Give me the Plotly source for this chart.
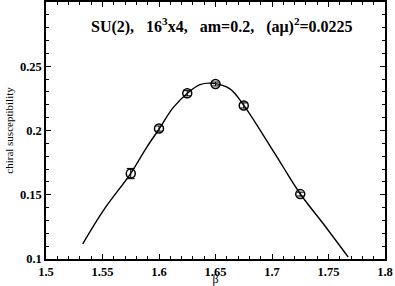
import plotly.graph_objects as go

beta = [1.575, 1.600, 1.625, 1.650, 1.675, 1.725]
chi = [0.1665, 0.2015, 0.2290, 0.2362, 0.2195, 0.1505]
chi_err = [0.0040, 0.0020, 0.0020, 0.0015, 0.0020, 0.0015]

fit_beta = [1.5325, 1.5507, 1.5750, 1.5891, 1.6003, 1.6127, 1.6254, 1.6363,
            1.6480, 1.6628, 1.6752, 1.6953, 1.7100, 1.7254, 1.7454, 1.7675]
fit_chi = [0.1118, 0.1377, 0.1667, 0.1869, 0.2015, 0.2180, 0.2292, 0.2357,
           0.2367, 0.2324, 0.2194, 0.1922, 0.1714, 0.1502, 0.1274, 0.1014]

x_ticks = [1.5, 1.55, 1.6, 1.65, 1.7, 1.75, 1.8]
x_tick_labels = ["1.5", "1.55", "1.6", "1.65", "1.7", "1.75", "1.8"]
y_ticks = [0.1, 0.15, 0.2, 0.25]
y_tick_labels = ["0.1", "0.15", "0.2", "0.25"]

serif = "Liberation Serif"
sp = "\u00a0\u00a0\u00a0"

fig = go.Figure()
fig.add_trace(go.Scatter(x=fit_beta, y=fit_chi, mode="lines",
                         line=dict(color="black", width=1.4, shape="spline"),
                         showlegend=False, hoverinfo="skip"))
fig.add_trace(go.Scatter(x=beta, y=chi, mode="markers",
                         marker=dict(symbol="circle-open", size=9, color="black",
                                     line=dict(width=1.5, color="black")),
                         error_y=dict(type="data", array=chi_err, color="black",
                                      thickness=1, width=4),
                         showlegend=False))

title = ("SU(2)," + sp + "16<sup>3</sup>x4," + sp + "am=0.2," + sp +
         "(a\u03bc)<sup>2</sup>=0.0225")
fig.add_annotation(x=1.6557, y=0.2816, xref="x", yref="y", text=title,
                   showarrow=False,
                   font=dict(family=serif, size=16, color="black", weight="bold"))

axis_common = dict(showline=True, linecolor="black", linewidth=1.5, mirror="allticks",
                   ticks="inside", ticklen=5, tickwidth=1, tickcolor="black",
                   showgrid=False, zeroline=False,
                   tickfont=dict(family=serif, size=12.5, color="black", weight="bold"))

fig.update_xaxes(range=[1.5, 1.8], tickvals=x_ticks, ticktext=x_tick_labels,
                 minor=dict(ticks="inside", dtick=0.01, ticklen=3, tickcolor="black"),
                 title=dict(text="\u03b2", font=dict(family=serif, size=12, color="black"),
                            standoff=5),
                 **axis_common)
fig.update_yaxes(range=[0.1, 0.3], tickvals=y_ticks, ticktext=y_tick_labels,
                 minor=dict(ticks="inside", dtick=0.01, ticklen=3, tickcolor="black"),
                 title=dict(text="chiral susceptibility",
                            font=dict(family=serif, size=11, color="black"), standoff=4),
                 **axis_common)

fig.update_layout(width=395, height=286, margin=dict(l=46, r=10, t=2, b=27, autoexpand=False),
                  plot_bgcolor="white", paper_bgcolor="white")
fig.write_html("out.html", config={"displayModeBar": False},
               post_script="document.body.style.margin='0';")
